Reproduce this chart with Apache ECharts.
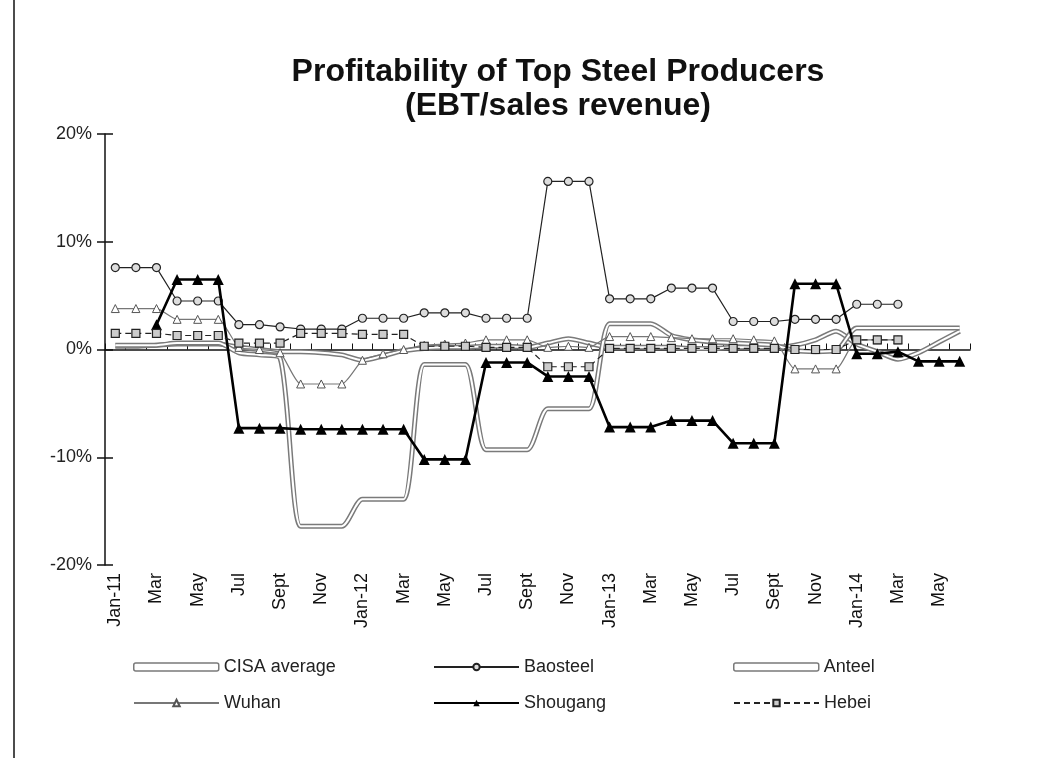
<!DOCTYPE html>
<html>
<head>
<meta charset="utf-8">
<script src="https://cdn.jsdelivr.net/npm/echarts@6/dist/echarts.min.js"></script>
<style>
  html, body { margin: 0; padding: 0; background: #fff; }
  #chart { width: 1049px; height: 758px; }
</style>
</head>
<body>
<div id="chart"></div>
<script>
// months Jan-11 .. Jun-14
var months = [
  'Jan-11', 'Feb-11', 'Mar-11', 'Apr-11', 'May-11', 'Jun-11', 'Jul-11', 'Aug-11', 'Sep-11', 'Oct-11', 'Nov-11', 'Dec-11',
  'Jan-12', 'Feb-12', 'Mar-12', 'Apr-12', 'May-12', 'Jun-12', 'Jul-12', 'Aug-12', 'Sep-12', 'Oct-12', 'Nov-12', 'Dec-12',
  'Jan-13', 'Feb-13', 'Mar-13', 'Apr-13', 'May-13', 'Jun-13', 'Jul-13', 'Aug-13', 'Sep-13', 'Oct-13', 'Nov-13', 'Dec-13',
  'Jan-14', 'Feb-14', 'Mar-14', 'Apr-14', 'May-14', 'Jun-14'
]
var tickLabels = [
  'Jan-11', '', 'Mar', '', 'May', '', 'Jul', '', 'Sept', '', 'Nov', '',
  'Jan-12', '', 'Mar', '', 'May', '', 'Jul', '', 'Sept', '', 'Nov', '',
  'Jan-13', '', 'Mar', '', 'May', '', 'Jul', '', 'Sept', '', 'Nov', '',
  'Jan-14', '', 'Mar', '', 'May', ''
]

var cisa = [
  0.3, 0.3, 0.4, 0.5, 0.5, 0.5, 0.2, 0.0, -0.2, -0.2, -0.3, -0.5,
  -1.0, -0.6, -0.1, 0.1, 0.2, 0.2, 0.3, 0.3, 0.2, 0.6, 1.0, 0.6,
  0.2, 0.2, 0.2, 0.2, 0.1, 0.1, 0.2, 0.2, 0.2, 0.4, 0.9, 1.7,
  0.5, -0.2, -0.9, -0.3, 0.7, 1.7
]
var baosteel = [
  7.6, 7.6, 7.6, 4.5, 4.5, 4.5, 2.3, 2.3, 2.1, 1.9, 1.9, 1.9,
  2.9, 2.9, 2.9, 3.4, 3.4, 3.4, 2.9, 2.9, 2.9, 15.6, 15.6, 15.6,
  4.7, 4.7, 4.7, 5.7, 5.7, 5.7, 2.6, 2.6, 2.6, 2.8, 2.8, 2.8,
  4.2, 4.2, 4.2, null, null, null
]
var anteel = [
  0.4, 0.4, 0.4, 0.6, 0.6, 0.6, -0.3, -0.5, -0.8, -16.4, -16.4, -16.4,
  -13.9, -13.9, -13.9, -1.4, -1.4, -1.4, -9.3, -9.3, -9.3, -5.5, -5.5, -5.5,
  2.4, 2.4, 2.4, 1.3, 0.9, 0.7, 0.6, 0.5, 0.4, -0.1, -0.2, -0.1,
  2.0, 2.0, 2.0, 2.0, 2.0, 2.0
]
var wuhan = [
  3.8, 3.8, 3.8, 2.8, 2.8, 2.8, 0.2, 0.0, -0.3, -3.2, -3.2, -3.2,
  -1.0, -0.4, 0.0, 0.4, 0.5, 0.6, 0.9, 0.9, 0.9, 0.2, 0.3, 0.2,
  1.2, 1.2, 1.2, 1.1, 1.0, 1.0, 1.0, 0.9, 0.8, -1.8, -1.8, -1.8,
  0.9, 0.9, 0.9, null, null, null
]
var shougang = [
  null, null, 2.3, 6.5, 6.5, 6.5, -7.3, -7.3, -7.3, -7.4, -7.4, -7.4,
  -7.4, -7.4, -7.4, -10.2, -10.2, -10.2, -1.2, -1.2, -1.2, -2.5, -2.5, -2.5,
  -7.2, -7.2, -7.2, -6.6, -6.6, -6.6, -8.7, -8.7, -8.7, 6.1, 6.1, 6.1,
  -0.4, -0.4, -0.2, -1.1, -1.1, -1.1
]
var hebei = [
  1.5, 1.5, 1.5, 1.3, 1.3, 1.3, 0.6, 0.6, 0.6, 1.5, 1.5, 1.5,
  1.4, 1.4, 1.4, 0.3, 0.3, 0.3, 0.2, 0.2, 0.2, -1.6, -1.6, -1.6,
  0.1, 0.1, 0.1, 0.1, 0.1, 0.1, 0.1, 0.1, 0.1, 0.0, 0.0, 0.0,
  0.9, 0.9, 0.9, null, null, null
]
var yTicks = [-20, 20, 10] // min, max, step
var legendOrder = ['CISA average', 'Baosteel', 'Anteel', 'Wuhan', 'Shougang', 'Hebei']

var font = 'Liberation Sans, Arial, sans-serif'
var myChart = echarts.init(document.getElementById('chart'))

// hollow double line = wide grey stroke + thin white stroke on top
function hollow(name, data, z) {
  return [{
    name: name,
    type: 'line',
    data: data,
    smooth: 0.25,
    symbol: 'none',
    z: z,
    lineStyle: { color: '#7a7a7a', width: 5 },
    itemStyle: { color: '#7a7a7a' }
  }, {
    name: name + '_in',
    type: 'line',
    data: data,
    smooth: 0.25,
    symbol: 'none',
    silent: true,
    z: z,
    lineStyle: { color: '#fff', width: 2 }
  }]
}

var series = []
series = series.concat(hollow('CISA average', cisa, 2))
series.push({
  name: 'Baosteel',
  type: 'line',
  data: baosteel,
  symbol: 'circle',
  symbolSize: 8,
  z: 3,
  lineStyle: { color: '#222', width: 1.2 },
  itemStyle: { color: '#ddd', borderColor: '#222', borderWidth: 1.2 }
})
series = series.concat(hollow('Anteel', anteel, 2))
series.push({
  name: 'Wuhan',
  type: 'line',
  data: wuhan,
  smooth: 0.2,
  symbol: 'triangle',
  symbolSize: 8,
  z: 3,
  lineStyle: { color: '#777', width: 1.2 },
  itemStyle: { color: '#fff', borderColor: '#555', borderWidth: 1 }
})
series.push({
  name: 'Shougang',
  type: 'line',
  data: shougang,
  symbol: 'triangle',
  symbolSize: 11,
  z: 4,
  lineStyle: { color: '#000', width: 2.6 },
  itemStyle: { color: '#000' }
})
series.push({
  name: 'Hebei',
  type: 'line',
  data: hebei,
  symbol: 'rect',
  symbolSize: 8,
  z: 4,
  lineStyle: { color: '#222', width: 1.2, type: [6, 4] },
  itemStyle: { color: '#ccc', borderColor: '#222', borderWidth: 1.2 }
})

// one legend per entry so the three columns line up like the original
var legends = legendOrder.map(function (n, i) {
  var item = { name: n }
  if (n === 'CISA average' || n === 'Anteel') {
    item.icon = 'roundRect'
    item.itemStyle = { color: '#fff', borderColor: '#7a7a7a', borderWidth: 1.5 }
  }
  return {
    left: 128 + (i % 3) * 300,
    top: i < 3 ? 653 : 689,
    itemWidth: 85,
    itemHeight: 8,
    selectedMode: false,
    textStyle: { fontFamily: font, fontSize: 18, color: '#222' },
    data: [item]
  }
})

var option = {
  backgroundColor: '#fff',
  animation: false,
  title: {
    text: 'Profitability of Top Steel Producers\n(EBT/sales revenue)',
    left: 553,
    top: 50,
    textAlign: 'center',
    textStyle: { fontFamily: font, fontSize: 32, fontWeight: 'bold', color: '#111', lineHeight: 34 }
  },
  legend: legends,
  grid: { left: 105, right: 79, top: 134, bottom: 193, containLabel: false },
  xAxis: [{
    type: 'category',
    data: months,
    position: 'bottom',
    axisLine: { show: false, onZero: false },
    axisTick: { show: false },
    axisLabel: {
      interval: 0,
      rotate: 90,
      margin: 8,
      fontFamily: font,
      fontSize: 18,
      color: '#111',
      formatter: function (v, i) { return tickLabels[i] }
    }
  }, {
    type: 'category',
    data: months,
    position: 'bottom',
    axisLine: { show: true, onZero: true, lineStyle: { color: '#111', width: 1.5 } },
    axisTick: { show: true, inside: true, length: 6, interval: 0, lineStyle: { color: '#111' } },
    axisLabel: { show: false }
  }],
  yAxis: [{
    type: 'value',
    min: yTicks[0],
    max: yTicks[1],
    interval: yTicks[2],
    axisLine: { show: true, lineStyle: { color: '#111', width: 1.5 } },
    axisTick: { show: true, length: 8, lineStyle: { color: '#111', width: 1.5 } },
    splitLine: { show: false },
    axisLabel: { formatter: '{value}%', fontFamily: font, fontSize: 18, color: '#222', margin: 13 }
  }, {
    type: 'value',
    position: 'left',
    min: yTicks[0],
    max: yTicks[1],
    interval: yTicks[2],
    axisLine: { show: false },
    axisTick: { show: true, inside: true, length: 8, lineStyle: { color: '#111', width: 1.5 } },
    splitLine: { show: false },
    axisLabel: { show: false }
  }],
  graphic: [{
    type: 'line',
    shape: { x1: 14, y1: 0, x2: 14, y2: 758 },
    style: { stroke: '#111', lineWidth: 1.5 }
  }],
  series: series
}

myChart.setOption(option)
</script>
</body>
</html>
